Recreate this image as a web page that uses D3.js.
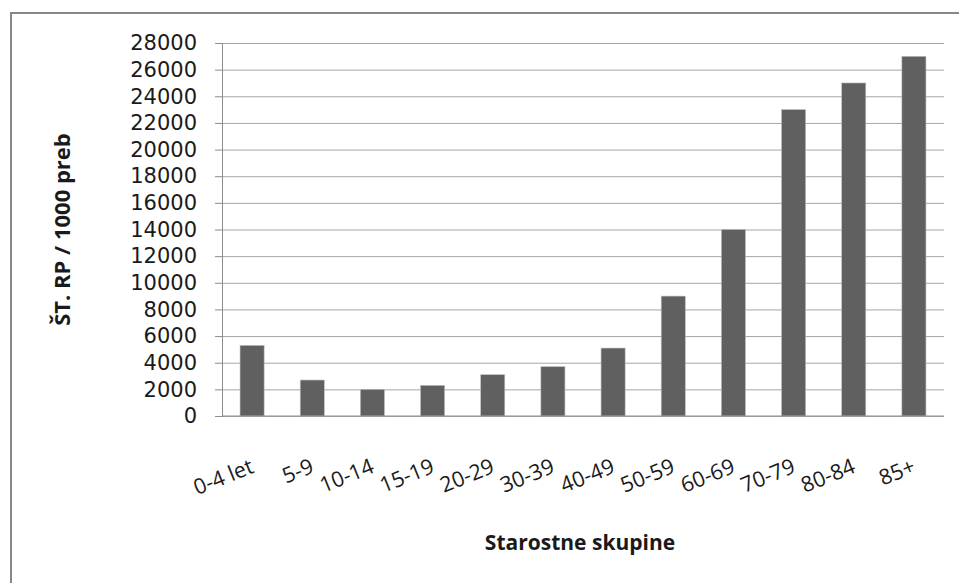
<!DOCTYPE html>
<html lang="sl">
<head>
<meta charset="UTF-8">
<title>ŠT. RP / 1000 preb</title>
<script src="https://d3js.org/d3.v7.min.js"></script>
<style>
  body { margin: 0; background: #fff; }
  svg { display: block; font-family: "Open Sans", sans-serif; }
</style>
</head>
<body>
<svg id="chart" width="959" height="583"></svg>
<script>
// data
const groups = ["0-4 let", "5-9", "10-14", "15-19", "20-29", "30-39", "40-49",
                "50-59", "60-69", "70-79", "80-84", "85+"];
const values = [5300, 2700, 2000, 2300, 3100, 3700, 5100, 9000, 14000, 23000, 25000, 27000];
const yTicks = d3.range(0, 28001, 2000);

const svg = d3.select("#chart");
const plotL = 222, plotR = 944, plotT = 43, plotB = 416;

// outer frame (only left and top edges are visible in the crop)
svg.append("path")
  .attr("d", "M11,583 V13 H959")
  .attr("fill", "none")
  .attr("stroke", "#878787")
  .attr("stroke-width", 2);

const x = d3.scaleBand().domain(groups).range([plotL, plotR]).paddingInner(0.6).paddingOuter(0.3);
const y = d3.scaleLinear().domain([0, 28000]).range([plotB, plotT]);

// gridlines + tick marks
svg.append("g")
  .attr("transform", `translate(${plotL},0)`)
  .call(d3.axisLeft(y).tickValues(yTicks).tickSize(-(plotR - plotL)).tickFormat(""))
  .call(g => g.select(".domain").remove())
  .call(g => g.selectAll("line").attr("stroke", "#a6a6a6").attr("stroke-width", 1));

// tick labels in DejaVu: its tighter line box keeps the stacked labels apart
const yAxis = svg.append("g")
  .attr("transform", `translate(${plotL},0)`)
  .call(d3.axisLeft(y).tickValues(yTicks).tickSize(7).tickPadding(18).tickFormat(d3.format("d")));
yAxis.select(".domain").attr("stroke", "#8c8c8c");
yAxis.selectAll("line").attr("stroke", "#8c8c8c");
yAxis.selectAll("text").attr("font-size", 21).attr("fill", "#1a1a1a")
  .attr("font-family", "'DejaVu Sans', sans-serif");

// bars
svg.append("g").selectAll("rect")
  .data(values)
  .join("rect")
  .attr("x", (d, i) => x(groups[i]))
  .attr("y", d => y(d))
  .attr("width", x.bandwidth())
  .attr("height", d => plotB - y(d))
  .attr("fill", "#606060")
  .attr("stroke", "#bdbdbd")
  .attr("stroke-width", 0.6);

// x baseline
svg.append("line")
  .attr("x1", plotL).attr("x2", plotR)
  .attr("y1", plotB).attr("y2", plotB)
  .attr("stroke", "#8c8c8c");

// rotated category labels
svg.append("g").selectAll("text")
  .data(groups)
  .join("text")
  .attr("transform", d => `translate(${x(d) + x.bandwidth() / 2 + 3},${plotB + 56}) rotate(-22)`)
  .attr("text-anchor", "end")
  .attr("font-size", 21.5)
  .attr("fill", "#1a1a1a")
  .text(d => d);

// axis titles
svg.append("text")
  .attr("x", (plotL + plotR) / 2 - 3)
  .attr("y", 550)
  .attr("text-anchor", "middle")
  .attr("font-size", 21)
  .attr("font-weight", "bold")
  .attr("fill", "#1a1a1a")
  .text("Starostne skupine");

svg.append("text")
  .attr("transform", `translate(70,${(plotT + plotB) / 2}) rotate(-90)`)
  .attr("text-anchor", "middle")
  .attr("font-size", 22)
  .attr("font-weight", "bold")
  .attr("fill", "#1a1a1a")
  .text("ŠT. RP / 1000 preb");
</script>
</body>
</html>
